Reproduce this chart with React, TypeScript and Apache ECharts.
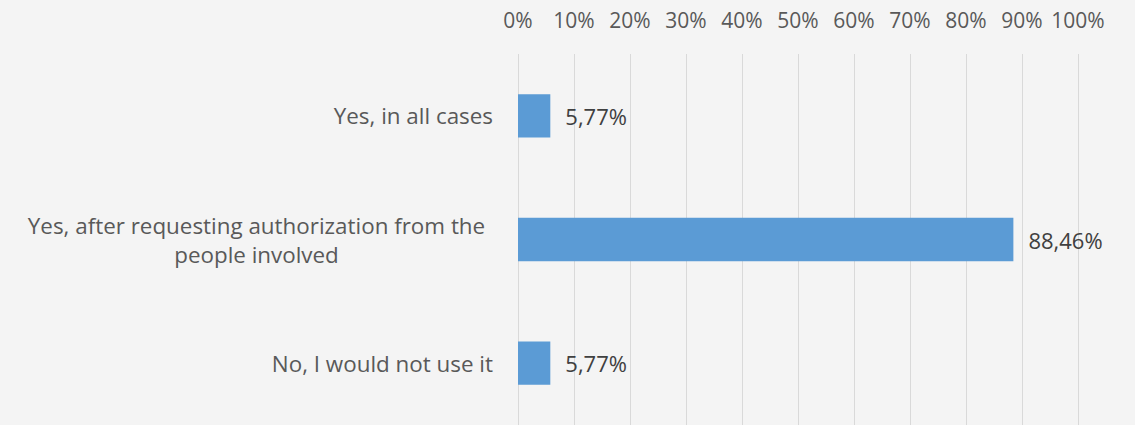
import React, { useEffect, useRef } from "react";
import * as echarts from "echarts";

const categories = [
  "Yes, in all cases",
  "Yes, after requesting authorization from the\npeople involved",
  "No, I would not use it",
];
const values = [5.77, 88.46, 5.77];
const tickMin = 0;
const tickMax = 100;
const tickStep = 10;

export default function App() {
  const ref = useRef<HTMLDivElement>(null);
  useEffect(() => {
    if (!ref.current) return;
    const chart = echarts.init(ref.current, null, { renderer: "svg" });
    const font = "'Open Sans', 'Noto Sans', sans-serif";
    chart.setOption({
      animation: false,
      backgroundColor: "#f4f4f4",
      textStyle: { fontFamily: font },
      grid: { left: 518, top: 54, width: 560, height: 375, containLabel: false },
      xAxis: {
        type: "value",
        position: "top",
        min: tickMin,
        max: tickMax,
        interval: tickStep,
        axisLine: { show: false },
        axisTick: { show: false },
        splitLine: { show: true, lineStyle: { color: "#d9d9d9", width: 1 } },
        axisLabel: {
          color: "#595959",
          fontSize: 21,
          fontFamily: font,
          margin: 24,
          formatter: (v: number) => `${v}%`,
        },
      },
      yAxis: {
        type: "category",
        inverse: true,
        data: categories,
        axisLine: { show: false },
        axisTick: { show: false },
        axisLabel: {
          color: "#595959",
          fontSize: 22.4,
          fontFamily: font,
          margin: 25,
          align: "right",
          formatter: (v: string) => {
            if (v.indexOf("\n") >= 0) {
              return v
                .split("\n")
                .map((l) => `{c|${l}}`)
                .join("\n");
            }
            return v;
          },
          rich: {
            c: {
              width: 473,
              align: "center",
              fontSize: 22.4,
              lineHeight: 29,
              color: "#595959",
              fontFamily: font,
            },
          },
        },
      },
      series: [
        {
          type: "bar",
          data: values,
          barWidth: "35%",
          itemStyle: { color: "#5b9bd5" },
          label: {
            show: true,
            position: "right",
            distance: 15,
            color: "#404040",
            fontSize: 22,
            fontFamily: font,
            formatter: (p: any) => `${p.value.toFixed(2).replace(".", ",")}%`,
          },
        },
      ],
    });
    return () => chart.dispose();
  }, []);
  return (
    <div
      ref={ref}
      style={{ position: "fixed", left: 0, top: 0, width: 1135, height: 425 }}
    />
  );
}
